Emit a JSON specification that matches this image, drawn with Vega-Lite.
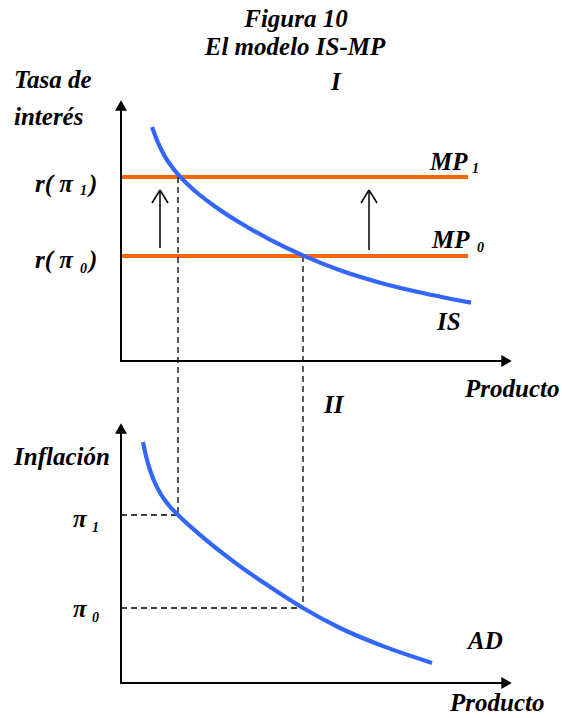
{
  "$schema": "https://vega.github.io/schema/vega-lite/v6.json",
  "width": 562,
  "height": 718,
  "autosize": {"type": "fit", "contains": "padding"},
  "padding": 0,
  "background": "white",
  "config": {"view": {"stroke": null}},
  "datasets": {
    "segments": [
      {"x": 121, "y": 541, "x2": 468, "y2": 541, "kind": "mp"},
      {"x": 121, "y": 462, "x2": 468, "y2": 462, "kind": "mp"},
      {"x": 178, "y": 541, "x2": 178, "y2": 203, "kind": "dash"},
      {"x": 303, "y": 462, "x2": 303, "y2": 110, "kind": "dash"},
      {"x": 121, "y": 203, "x2": 178, "y2": 203, "kind": "dash"},
      {"x": 121, "y": 110, "x2": 303, "y2": 110, "kind": "dash"},
      {"x": 121, "y": 357, "x2": 121, "y2": 608, "kind": "axis"},
      {"x": 121, "y": 357, "x2": 504, "y2": 357, "kind": "axis"},
      {"x": 121, "y": 35, "x2": 121, "y2": 286, "kind": "axis"},
      {"x": 121, "y": 35, "x2": 504, "y2": 35, "kind": "axis"},
      {"x": 160, "y": 470, "x2": 160, "y2": 528, "kind": "arrow"},
      {"x": 152, "y": 515, "x2": 160, "y2": 528, "kind": "arrow"},
      {"x": 168, "y": 515, "x2": 160, "y2": 528, "kind": "arrow"},
      {"x": 369, "y": 468, "x2": 369, "y2": 528, "kind": "arrow"},
      {"x": 361, "y": 515, "x2": 369, "y2": 528, "kind": "arrow"},
      {"x": 377, "y": 515, "x2": 369, "y2": 528, "kind": "arrow"}
    ],
    "heads": [
      {"x": 121, "y": 612.5, "dir": "up"},
      {"x": 121, "y": 289.5, "dir": "up"},
      {"x": 506.5, "y": 357, "dir": "right"},
      {"x": 506.5, "y": 35, "dir": "right"}
    ],
    "curves": [
      {"series": "IS", "x": 152, "y": 591},
      {"series": "IS", "x": 158, "y": 575.4},
      {"series": "IS", "x": 165, "y": 561.4},
      {"series": "IS", "x": 172, "y": 550.9},
      {"series": "IS", "x": 180, "y": 541.3},
      {"series": "IS", "x": 195, "y": 527},
      {"series": "IS", "x": 215, "y": 511.5},
      {"series": "IS", "x": 240, "y": 495.2},
      {"series": "IS", "x": 270, "y": 478.4},
      {"series": "IS", "x": 304, "y": 462.1},
      {"series": "IS", "x": 340, "y": 447.7},
      {"series": "IS", "x": 380, "y": 435.3},
      {"series": "IS", "x": 425, "y": 424.5},
      {"series": "IS", "x": 471, "y": 415.3},
      {"series": "AD", "x": 143, "y": 276},
      {"series": "AD", "x": 146, "y": 262},
      {"series": "AD", "x": 150, "y": 248},
      {"series": "AD", "x": 155, "y": 235},
      {"series": "AD", "x": 161, "y": 223.5},
      {"series": "AD", "x": 169, "y": 212.5},
      {"series": "AD", "x": 178, "y": 203},
      {"series": "AD", "x": 200, "y": 183.2},
      {"series": "AD", "x": 230, "y": 159.2},
      {"series": "AD", "x": 265, "y": 134.4},
      {"series": "AD", "x": 303, "y": 110},
      {"series": "AD", "x": 340, "y": 90},
      {"series": "AD", "x": 385, "y": 71.1},
      {"series": "AD", "x": 432, "y": 55.1}
    ],
    "titles": [
      {"text": "Figura 10", "x": 296, "y": 691},
      {"text": "El modelo IS-MP", "x": 295, "y": 663}
    ],
    "labels": [
      {"text": "I", "x": 331, "y": 628},
      {"text": "Tasa de", "x": 14, "y": 630},
      {"text": "interés", "x": 14, "y": 593},
      {"text": "r( π", "x": 35, "y": 526},
      {"text": ")", "x": 89, "y": 526},
      {"text": "r( π", "x": 35, "y": 450},
      {"text": ")", "x": 89, "y": 450},
      {"text": "MP", "x": 430, "y": 548},
      {"text": "MP", "x": 432, "y": 470},
      {"text": "IS", "x": 437, "y": 388},
      {"text": "Producto", "x": 465, "y": 321},
      {"text": "II", "x": 324, "y": 305},
      {"text": "Inflación", "x": 14, "y": 253},
      {"text": "π", "x": 73, "y": 191},
      {"text": "π", "x": 73, "y": 101},
      {"text": "AD", "x": 468, "y": 69},
      {"text": "Producto", "x": 450, "y": 7}
    ],
    "subs": [
      {"text": "1", "x": 80, "y": 523},
      {"text": "0", "x": 80, "y": 445},
      {"text": "1", "x": 472, "y": 545},
      {"text": "0", "x": 477, "y": 466},
      {"text": "1", "x": 92, "y": 186},
      {"text": "0", "x": 92, "y": 96}
    ]
  },
  "encoding": {
    "x": {"field": "x", "type": "quantitative", "scale": {"domain": [0, 562], "nice": false, "zero": false}, "axis": null},
    "y": {"field": "y", "type": "quantitative", "scale": {"domain": [0, 718], "nice": false, "zero": false}, "axis": null}
  },
  "layer": [
    {
      "data": {"name": "segments"},
      "transform": [{"filter": "datum.kind === 'mp'"}],
      "mark": {"type": "rule", "stroke": "#ff6600", "strokeWidth": 4},
      "encoding": {"x2": {"field": "x2"}, "y2": {"field": "y2"}}
    },
    {
      "data": {"name": "segments"},
      "transform": [{"filter": "datum.kind === 'dash'"}],
      "mark": {"type": "rule", "stroke": "#000000", "strokeWidth": 1.3, "strokeDash": [6, 4]},
      "encoding": {"x2": {"field": "x2"}, "y2": {"field": "y2"}}
    },
    {
      "data": {"name": "curves"},
      "mark": {"type": "line", "stroke": "#3366ff", "strokeWidth": 4.2, "interpolate": "monotone"},
      "encoding": {"detail": {"field": "series", "type": "nominal"}}
    },
    {
      "data": {"name": "segments"},
      "transform": [{"filter": "datum.kind === 'axis'"}],
      "mark": {"type": "rule", "stroke": "#000000", "strokeWidth": 2, "strokeCap": "square"},
      "encoding": {"x2": {"field": "x2"}, "y2": {"field": "y2"}}
    },
    {
      "data": {"name": "segments"},
      "transform": [{"filter": "datum.kind === 'arrow'"}],
      "mark": {"type": "rule", "stroke": "#000000", "strokeWidth": 1.5},
      "encoding": {"x2": {"field": "x2"}, "y2": {"field": "y2"}}
    },
    {
      "data": {"name": "heads"},
      "mark": {"type": "point", "filled": true, "size": 144, "color": "#000000", "opacity": 1},
      "encoding": {
        "shape": {"field": "dir", "type": "nominal", "scale": {"domain": ["up", "right"], "range": ["triangle-up", "triangle-right"]}, "legend": null}
      }
    },
    {
      "data": {"name": "titles"},
      "mark": {"type": "text", "font": "Liberation Serif", "fontSize": 25, "fontWeight": "bold", "fontStyle": "italic", "align": "center", "baseline": "alphabetic", "color": "#000000"},
      "encoding": {"text": {"field": "text"}}
    },
    {
      "data": {"name": "labels"},
      "mark": {"type": "text", "font": "Liberation Serif", "fontSize": 25, "fontWeight": "bold", "fontStyle": "italic", "align": "left", "baseline": "alphabetic", "color": "#000000"},
      "encoding": {"text": {"field": "text"}}
    },
    {
      "data": {"name": "subs"},
      "mark": {"type": "text", "font": "Liberation Serif", "fontSize": 14, "fontWeight": "bold", "fontStyle": "italic", "align": "left", "baseline": "alphabetic", "color": "#000000"},
      "encoding": {"text": {"field": "text"}}
    }
  ]
}
